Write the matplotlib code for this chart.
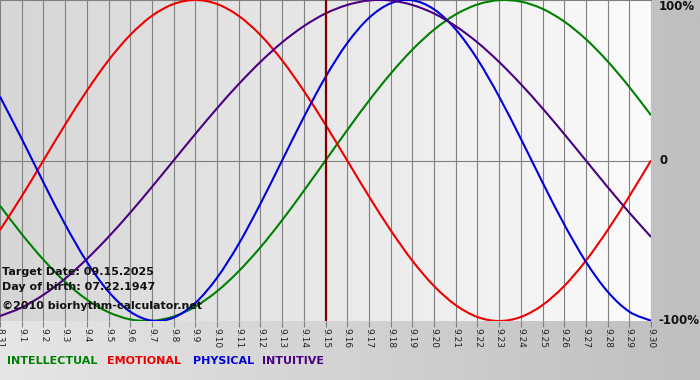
import numpy as np
import matplotlib
matplotlib.use('Agg')
import matplotlib.pyplot as plt
from matplotlib.path import Path
from matplotlib.patches import PathPatch
from matplotlib.colors import LinearSegmentedColormap

# days shown on the x axis
days = ['8.31'] + ['9.%d' % d for d in range(1, 31)]
target_day = '9.15'

# curve values per day (-1 .. 1)
physical = [0.398, 0.136, -0.136, -0.398, -0.631, -0.817, -0.942, -0.998,
            -0.979, -0.888, -0.731, -0.520, -0.270, 0.0, 0.270, 0.520,
            0.731, 0.888, 0.979, 0.998, 0.942, 0.817, 0.631, 0.398,
            0.136, -0.136, -0.398, -0.631, -0.817, -0.942, -0.998]
emotional = [-0.434, -0.223, 0.0, 0.223, 0.434, 0.624, 0.782, 0.901,
             0.975, 1.0, 0.975, 0.901, 0.782, 0.624, 0.434, 0.223,
             0.0, -0.223, -0.434, -0.624, -0.782, -0.901, -0.975, -1.0,
             -0.975, -0.901, -0.782, -0.624, -0.434, -0.223, 0.0]
intellectual = [-0.282, -0.458, -0.618, -0.756, -0.866, -0.945, -0.990, -0.999,
                -0.972, -0.910, -0.815, -0.690, -0.541, -0.372, -0.189, 0.0,
                0.189, 0.372, 0.541, 0.690, 0.815, 0.910, 0.972, 0.999,
                0.990, 0.945, 0.866, 0.756, 0.618, 0.458, 0.282]
intuitive = [-0.969, -0.916, -0.837, -0.736, -0.614, -0.476, -0.325, -0.165,
             0.0, 0.165, 0.325, 0.476, 0.614, 0.736, 0.837, 0.916,
             0.969, 0.997, 0.997, 0.969, 0.916, 0.837, 0.736, 0.614,
             0.476, 0.325, 0.165, 0.0, -0.165, -0.325, -0.476]

series = [('INTELLECTUAL', intellectual, '#008000'),
          ('EMOTIONAL', emotional, '#ee0000'),
          ('PHYSICAL', physical, '#0000dd'),
          ('INTUITIVE', intuitive, '#4b0082')]


def smooth_path(xs, ys):
    # catmull-rom through the points, drawn as cubic bezier segments
    pts = np.column_stack([xs, ys]).astype(float)
    verts = [pts[0]]
    codes = [Path.MOVETO]
    n = len(pts)
    for i in range(n - 1):
        p0 = pts[max(i - 1, 0)]
        p1 = pts[i]
        p2 = pts[i + 1]
        p3 = pts[min(i + 2, n - 1)]
        verts += [p1 + (p2 - p0) / 6, p2 - (p3 - p1) / 6, p2]
        codes += [Path.CURVE4] * 3
    return Path(verts, codes)


fig = plt.figure(figsize=(7, 3.8), dpi=100)

# background gradient of the whole picture
bg = fig.add_axes([0, 0, 1, 1])
bg.imshow(np.linspace(0, 1, 256).reshape(1, -1), aspect='auto',
          cmap=LinearSegmentedColormap.from_list('bg', ['#e6e6e6', '#bfbfbf']),
          extent=[0, 1, 0, 1])
bg.axis('off')

ax = fig.add_axes([0, (380 - 321) / 380, 651 / 700, 321 / 380])
x = np.arange(len(days))
ax.set_xlim(0, len(days) - 1)
ax.set_ylim(-1, 1)

# plot area gradient
ax.imshow(np.linspace(0, 1, 256).reshape(1, -1), aspect='auto',
          cmap=LinearSegmentedColormap.from_list('pa', ['#d6d6d6', '#fbfbfb']),
          extent=[0, len(days) - 1, -1, 1], zorder=0)

for xi in x:
    ax.axvline(xi, color='#808080', lw=0.8, zorder=1)
ax.axhline(0, color='#808080', lw=0.8, zorder=1)

for name, vals, col in series:
    ax.add_patch(PathPatch(smooth_path(x, vals), facecolor='none',
                           edgecolor=col, lw=1.5, zorder=3))

ax.axvline(days.index(target_day), color='#800000', lw=1.6, zorder=4)

for s in ax.spines.values():
    s.set_visible(False)
ax.spines['top'].set_visible(True)
ax.spines['top'].set_color('#808080')
ax.spines['top'].set_linewidth(0.8)

ax.set_yticks([])
ax.set_xticks(x)
ax.set_xticklabels(days, rotation=270, fontsize=6.5, color='#222222')
ax.tick_params(axis='x', length=4, width=0.8, color='#808080', pad=1)

txt = dict(fontsize=8, fontweight='bold', color='#111111', transform=ax.transAxes, zorder=5)
ax.text(0.003, 1 - 272 / 321, 'Target Date: 09.15.2025', va='center', **txt)
ax.text(0.003, 1 - 287 / 321, 'Day of birth: 07.22.1947', va='center', **txt)
ax.text(0.003, 1 - 306 / 321, '\u00a92010 biorhythm-calculator.net', va='center', **txt)

for lab, yv in [('100%', 1), ('0', 0), ('-100%', -1)]:
    ax.text(1.012 if lab != '0' else 1.013, yv, lab, transform=ax.get_yaxis_transform(),
            va='center' if lab != '100%' else 'top', ha='left', fontsize=8.5,
            fontweight='bold', color='#111111', clip_on=False)

# legend row
xpos = [7, 107, 193, 262]
for (name, vals, col), xp in zip(series, xpos):
    fig.text(xp / 700, 1 - 361 / 380, name, color=col, fontsize=8,
             fontweight='bold', va='center')

fig.savefig('out.png', dpi=100)
